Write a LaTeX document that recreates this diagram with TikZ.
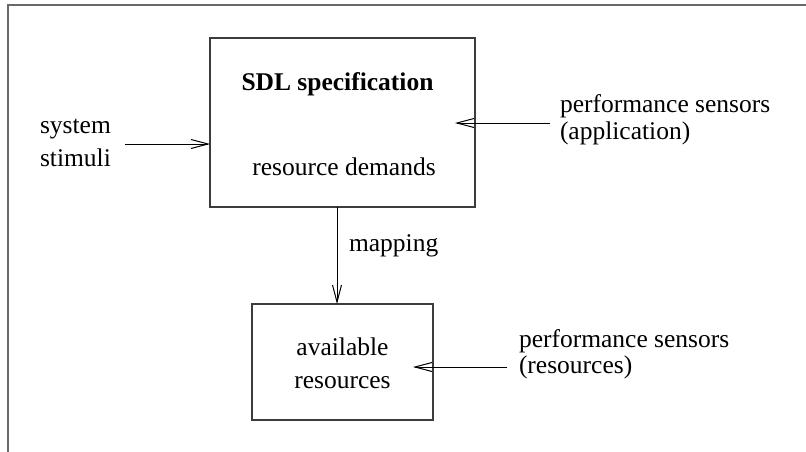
\documentclass[tikz,border=0pt]{standalone}
\usepackage{fontspec}
\setmainfont{Liberation Serif}
\usetikzlibrary{arrows.meta}
\definecolor{framegray}{RGB}{105,105,105}
\definecolor{boxgray}{RGB}{60,60,60}
\begin{document}
\begin{tikzpicture}[x=1pt,y=-1pt,
  box/.style={draw=boxgray, line width=1.3pt, inner sep=0pt, outer sep=0pt},
  lbl/.style={font=\fontsize{25.5}{26}\selectfont, inner sep=0pt, outer sep=0pt},
  lblwide/.style={font=\fontsize{25.5}{33}\selectfont, inner sep=0pt, outer sep=0pt},
  conn/.style={line width=1pt, -{Straight Barb[length=17pt,width=9pt,line width=1pt]}}]
\useasboundingbox (0,0) rectangle (806,452);
% frame
\draw[framegray, line width=2pt] (7.5,452) -- (7.5,5.5) -- (806,5.5);
% boxes
\node[box, minimum width=265pt, minimum height=169pt] (sdl) at (342.5,122.5) {};
\node[box, minimum width=181pt, minimum height=116pt] (res) at (342.5,362) {};
% texts
\node[lbl, anchor=base, font=\fontsize{25.5}{26}\selectfont\bfseries] (sdltitle) at (337.5,90.5) {SDL specification};
\node[lbl, anchor=base] (demands) at (344,175) {resource demands};
\node[lbl, anchor=base west] (mapping) at (349,251.5) {mapping};
\node[lblwide, anchor=base west, align=left] (stim) at (40,166) {system\\stimuli};
\node[lblwide, anchor=base, align=center] (avail) at (342.5,388) {available\\resources};
\node[lbl, anchor=base west, align=left] (appsens) at (560,139) {performance sensors\\(application)};
\node[lbl, anchor=base west, align=left] (ressens) at (519,373) {performance sensors\\(resources)};
% connectors
\coordinate (s0) at (125,144);
\draw[conn] (s0) -- (sdl.west |- s0);
\coordinate (a0) at (550,123);
\draw[conn] (a0) -- ([xshift=-20pt]sdl.east |- a0);
\coordinate (m0) at (337,0);
\draw[conn] (sdl.south -| m0) -- (res.north -| m0);
\coordinate (r0) at (507,367);
\draw[conn] (r0) -- ([xshift=-20pt]res.east |- r0);
\end{tikzpicture}
\end{document}
